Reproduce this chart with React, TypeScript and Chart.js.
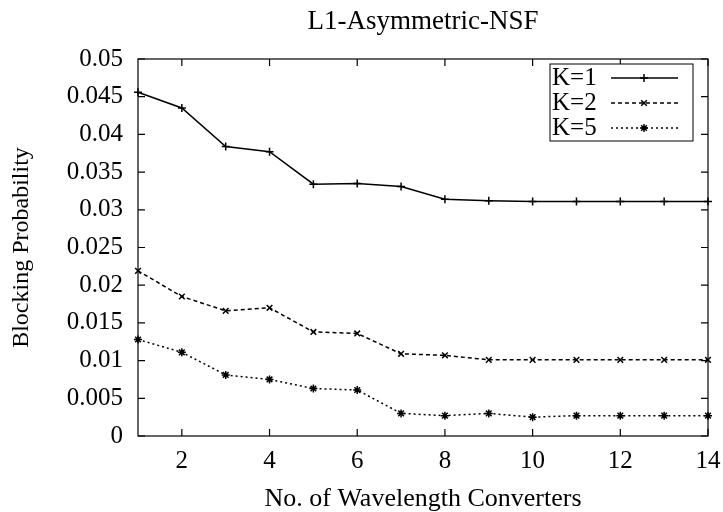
import React, { useEffect, useRef } from "react";
import { Chart, registerables } from "chart.js";
import { drawPoint } from "chart.js/helpers";

Chart.register(...registerables);

const TITLE = "L1-Asymmetric-NSF";
const X_TITLE = "No. of Wavelength Converters";
const Y_TITLE = "Blocking Probability";

const converters = [1, 2, 3, 4, 5, 6, 7, 8, 9, 10, 11, 12, 13, 14];
const xTickValues = [2, 4, 6, 8, 10, 12, 14];
const yTickValues = [0, 0.005, 0.01, 0.015, 0.02, 0.025, 0.03, 0.035, 0.04, 0.045, 0.05];

const seriesLabels = ["K=1", "K=2", "K=5"];
const k1 = [0.0456, 0.0435, 0.0384, 0.0377, 0.0334, 0.0335, 0.0331, 0.0314, 0.0312, 0.0311, 0.0311, 0.0311, 0.0311, 0.0311];
const k2 = [0.0219, 0.0185, 0.0166, 0.017, 0.0138, 0.0136, 0.0109, 0.0107, 0.0101, 0.0101, 0.0101, 0.0101, 0.0101, 0.0101];
const k5 = [0.0128, 0.0111, 0.0081, 0.0075, 0.0063, 0.0061, 0.003, 0.0027, 0.003, 0.0025, 0.0027, 0.0027, 0.0027, 0.0027];

const FONT = "'Liberation Serif', 'Times New Roman', Times, serif";
const FS = 25;

const framePlugin = {
  id: "gnuFrame",
  beforeDatasetsDraw(chart: any) {
    const { ctx, chartArea, scales } = chart;
    const { left, right, top, bottom } = chartArea;
    const x = scales.x;
    const y = scales.y;
    const tl = 7;
    ctx.save();
    ctx.strokeStyle = "#000";
    ctx.lineWidth = 1.2;
    ctx.strokeRect(left, top, right - left, bottom - top);
    ctx.beginPath();
    x.ticks.forEach((t: any) => {
      const px = x.getPixelForValue(t.value);
      ctx.moveTo(px, bottom);
      ctx.lineTo(px, bottom - tl);
      ctx.moveTo(px, top);
      ctx.lineTo(px, top + tl);
    });
    y.ticks.forEach((t: any) => {
      const py = y.getPixelForValue(t.value);
      ctx.moveTo(left, py);
      ctx.lineTo(left + tl, py);
      ctx.moveTo(right, py);
      ctx.lineTo(right - tl, py);
    });
    ctx.stroke();
    ctx.restore();
  },
};

const legendPlugin = {
  id: "gnuLegend",
  afterDatasetsDraw(chart: any) {
    const { ctx, chartArea } = chart;
    const boxW = 143;
    const boxH = 77;
    const bx = chartArea.right - 158;
    const by = chartArea.top + 5;
    ctx.save();
    ctx.fillStyle = "#fff";
    ctx.fillRect(bx, by, boxW, boxH);
    ctx.strokeStyle = "#000";
    ctx.lineWidth = 1;
    ctx.strokeRect(bx, by, boxW, boxH);
    chart.data.datasets.forEach((ds: any, i: number) => {
      const cy = by + 14 + i * 25;
      ctx.fillStyle = "#000";
      ctx.font = `${FS}px ${FONT}`;
      ctx.textAlign = "left";
      ctx.textBaseline = "middle";
      ctx.fillText(ds.label, bx + 2, cy);
      ctx.beginPath();
      ctx.setLineDash(ds.borderDash || []);
      ctx.lineWidth = ds.borderWidth;
      ctx.strokeStyle = ds.borderColor;
      ctx.moveTo(bx + 61, cy);
      ctx.lineTo(bx + 128, cy);
      ctx.stroke();
      ctx.setLineDash([]);
      ctx.lineWidth = 1.5;
      drawPoint(ctx, { pointStyle: ds.pointStyle, radius: ds.pointRadius, rotation: 0, borderWidth: 1.5 }, bx + 94, cy);
    });
    ctx.restore();
  },
};

export default function App() {
  const ref = useRef<HTMLCanvasElement | null>(null);

  useEffect(() => {
    if (!ref.current) return;
    Chart.defaults.font.family = FONT;
    Chart.defaults.font.size = FS;
    Chart.defaults.color = "#000";
    const mk = (label: string, data: number[], dash: number[], style: string) => ({
      label,
      data: converters.map((c, i) => ({ x: c, y: data[i] })),
      borderColor: "#000",
      backgroundColor: "#000",
      borderWidth: 1.5,
      borderDash: dash,
      pointStyle: style,
      pointRadius: 4,
      pointBorderWidth: 1.5,
      pointBorderColor: "#000",
      fill: false,
      tension: 0,
      clip: false as any,
    });
    const tickFont = { size: FS, family: FONT, lineHeight: 1.2 };
    const chart = new Chart(ref.current, {
      type: "line",
      data: {
        datasets: [
          mk(seriesLabels[0], k1, [], "cross"),
          mk(seriesLabels[1], k2, [4, 3], "crossRot"),
          mk(seriesLabels[2], k5, [2, 3], "star"),
        ],
      },
      options: {
        responsive: false,
        animation: false,
        layout: { padding: { left: 0, right: 0, top: 0, bottom: 0 } },
        plugins: {
          legend: { display: false },
          title: { display: false },
          tooltip: { enabled: false },
        },
        scales: {
          x: {
            type: "linear",
            position: "bottom",
            min: 1,
            max: 14,
            afterBuildTicks: (s: any) => {
              s.ticks = xTickValues.map((v) => ({ value: v }));
            },
            afterFit: (s: any) => {
              s.height = 76;
              s.paddingLeft = 0;
              s.paddingRight = 15;
            },
            grid: { display: false, drawTicks: false },
            border: { display: false },
            ticks: { font: tickFont, color: "#000", padding: 10, maxRotation: 0, autoSkip: false },
            title: {
              display: true,
              text: X_TITLE,
              font: { size: 26, family: FONT, lineHeight: 1 },
              color: "#000",
              padding: { top: 0, bottom: 0 },
            },
          },
          x2: {
            type: "linear",
            position: "top",
            min: 1,
            max: 14,
            afterFit: (s: any) => {
              s.height = 59;
              s.paddingLeft = 0;
              s.paddingRight = 0;
            },
            grid: { display: false, drawTicks: false },
            border: { display: false },
            ticks: { display: false },
            title: {
              display: true,
              text: TITLE,
              font: { size: 27, family: FONT, lineHeight: 1.2 },
              color: "#000",
              padding: { top: 6, bottom: 0 },
            },
          },
          y: {
            type: "linear",
            position: "left",
            min: 0,
            max: 0.05,
            afterBuildTicks: (s: any) => {
              s.ticks = yTickValues.map((v) => ({ value: v }));
            },
            afterFit: (s: any) => {
              s.width = 138;
            },
            grid: { display: false, drawTicks: false },
            border: { display: false },
            ticks: {
              font: tickFont,
              color: "#000",
              padding: 15,
              autoSkip: false,
              callback: (v: any) => String(parseFloat(Number(v).toFixed(4))),
            },
            title: {
              display: true,
              text: Y_TITLE,
              font: { size: 24, family: FONT, lineHeight: 1 },
              color: "#000",
              padding: { top: 10, bottom: 0 },
            },
          },
        },
      },
      plugins: [framePlugin, legendPlugin],
    } as any);
    return () => chart.destroy();
  }, []);

  return (
    <div style={{ position: "absolute", left: 0, top: 0, width: 723, height: 512, background: "#fff" }}>
      <canvas ref={ref} width={723} height={512} />
    </div>
  );
}
